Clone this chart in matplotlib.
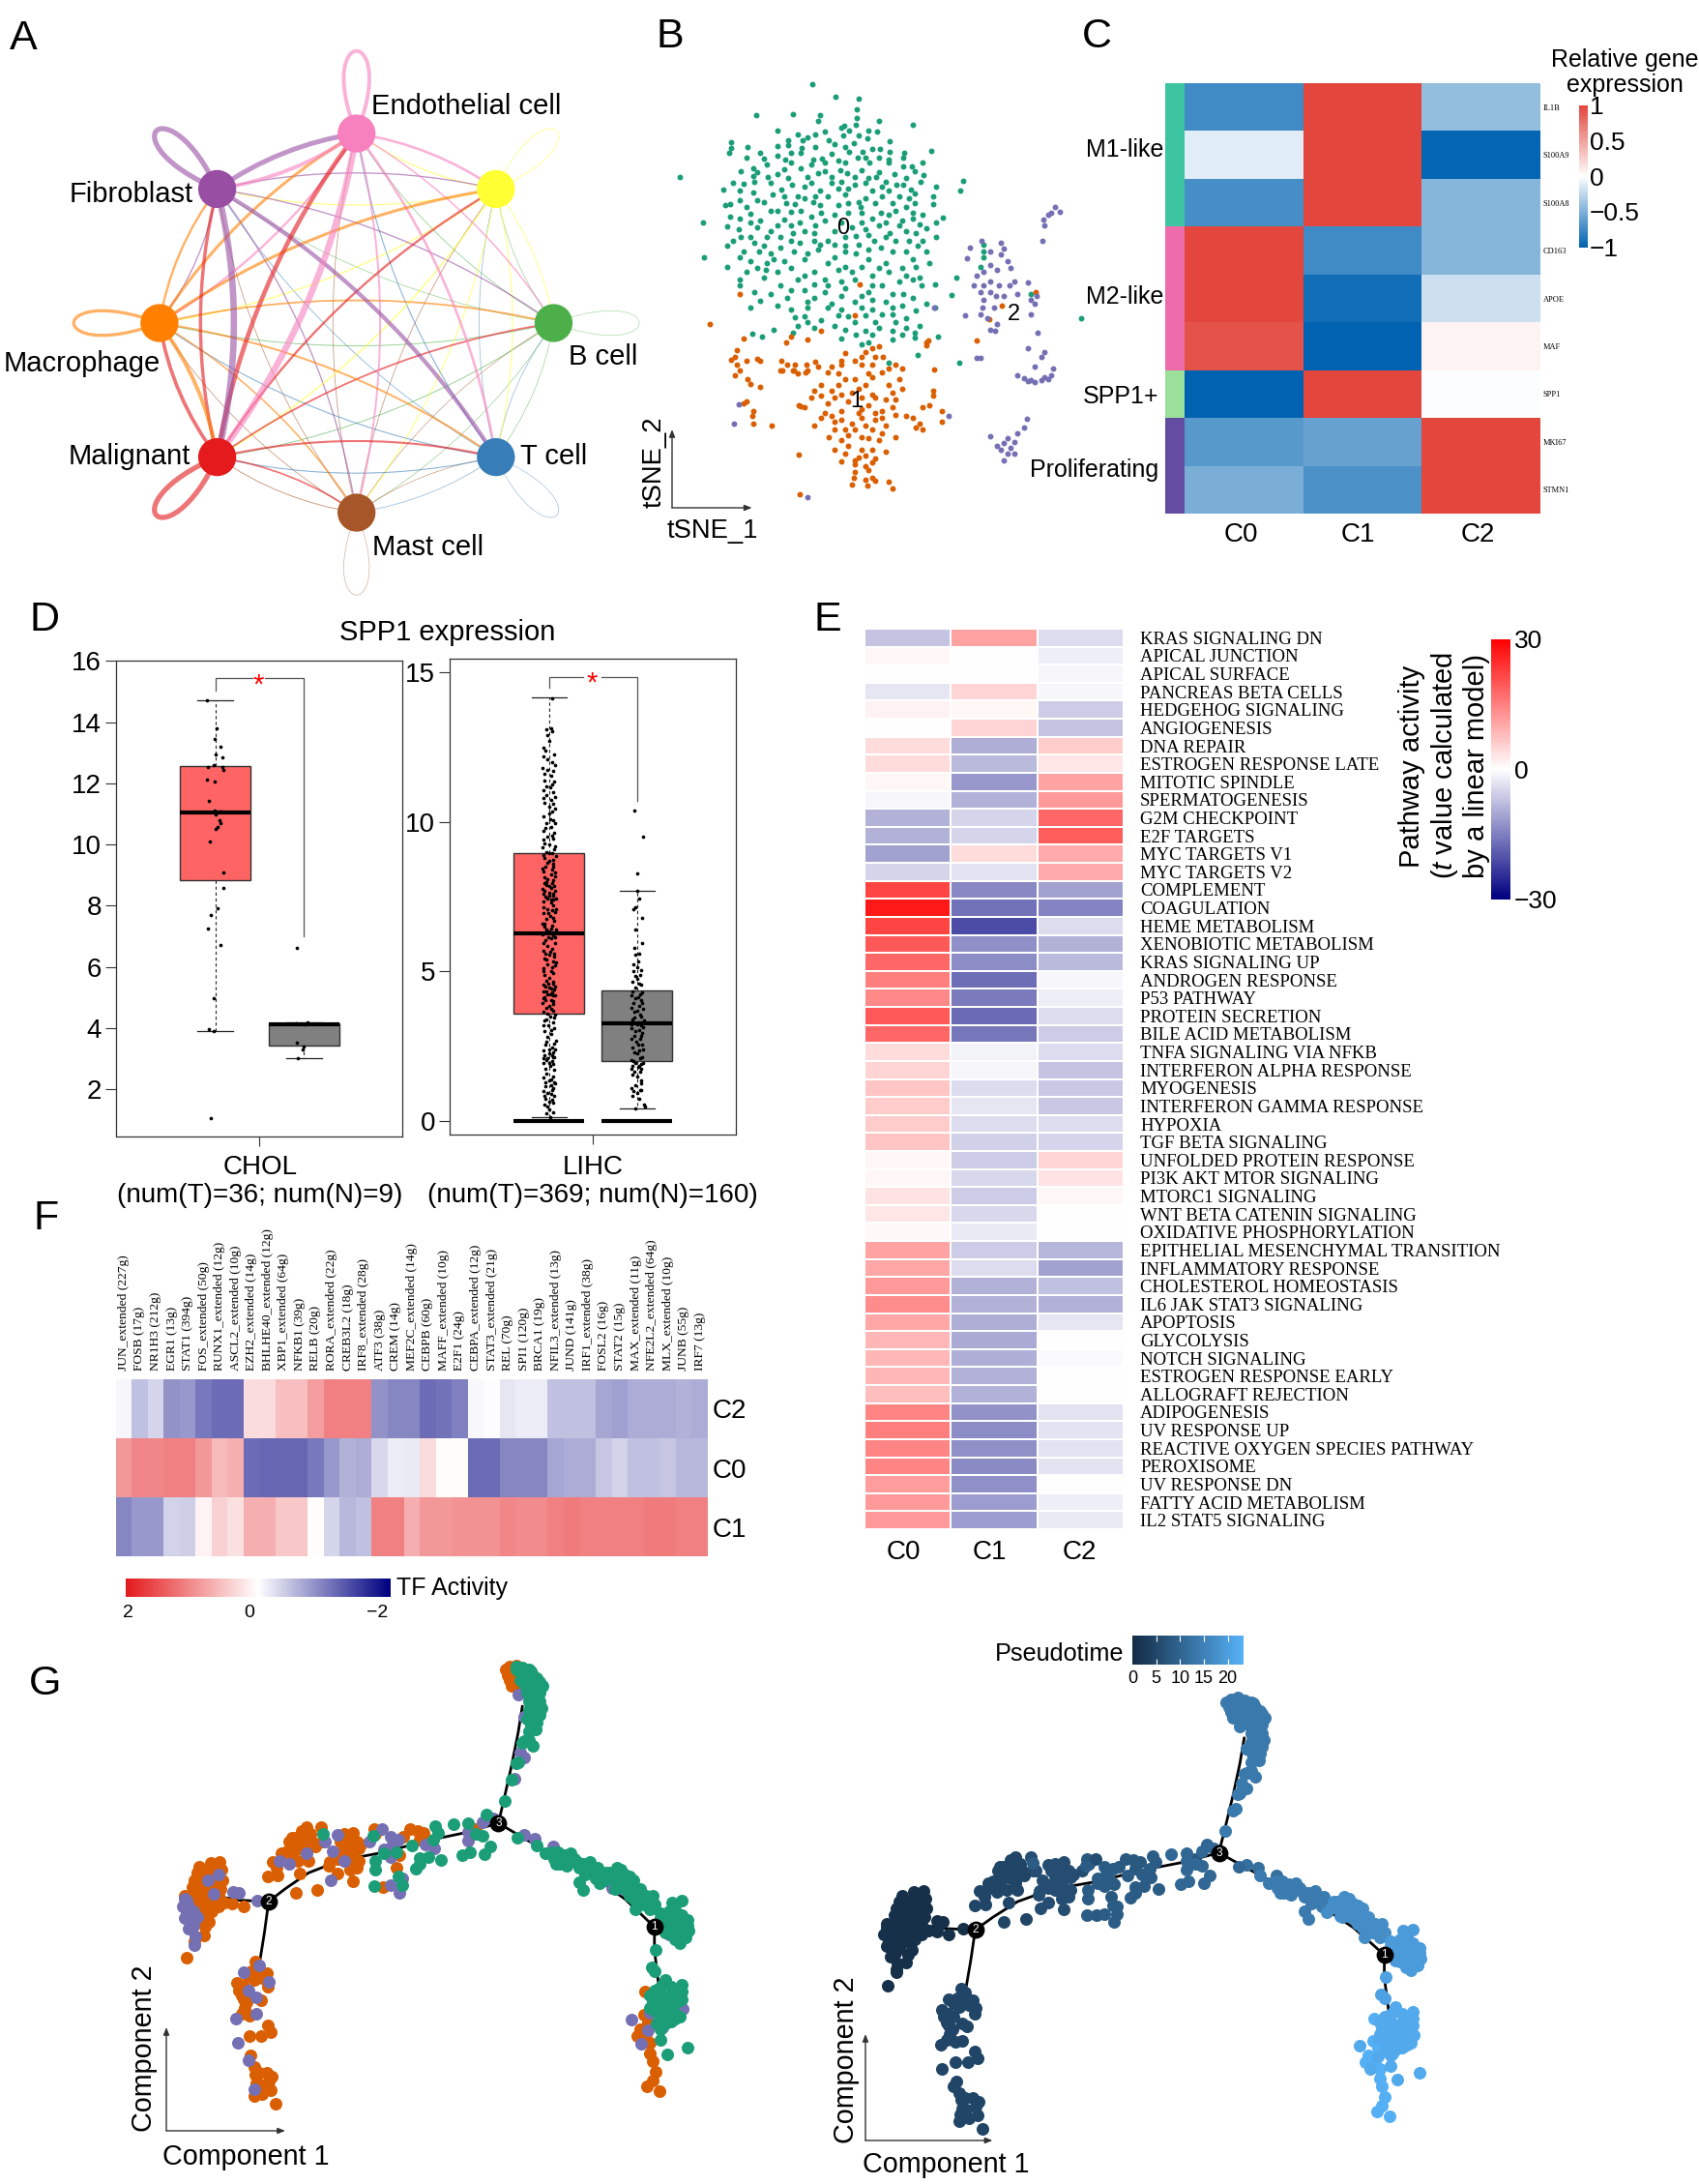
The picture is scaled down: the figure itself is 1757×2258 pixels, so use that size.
import numpy as np
import matplotlib
matplotlib.use('Agg')
import matplotlib.pyplot as plt
from matplotlib.path import Path
from matplotlib.patches import PathPatch
from matplotlib.colors import LinearSegmentedColormap, Normalize
from matplotlib.cm import ScalarMappable

plt.rcParams['font.family'] = ['Liberation Sans', 'DejaVu Sans']
plt.rcParams['mathtext.fontset'] = 'custom'
plt.rcParams['mathtext.rm'] = 'Liberation Sans'
plt.rcParams['mathtext.it'] = 'Liberation Sans:italic'

# ---------- Panel A ----------
cell_colors = ['#f781bf', '#ffff33', '#4daf4a', '#377eb8', '#a65628', '#e41a1c', '#ff7f00', '#984ea3']
cell_angles = [90, 45, 0, -45, -90, -135, 180, 135]
interaction_widths = [
    [3.0, 2.0, 1.2, 2.0, 1.5, 5.0, 1.8, 3.0],
    [0.9, 0.6, 0.7, 0.8, 0.8, 1.1, 1.0, 0.9],
    [0.6, 0.5, 0.4, 0.5, 0.5, 0.7, 0.7, 0.5],
    [0.8, 0.5, 0.5, 0.4, 0.5, 0.8, 0.8, 0.6],
    [0.6, 0.6, 0.5, 0.5, 0.4, 0.7, 0.6, 0.6],
    [3.5, 1.8, 1.4, 1.6, 1.3, 4.0, 2.8, 2.6],
    [2.3, 2.3, 1.4, 1.5, 1.2, 3.0, 2.5, 1.8],
    [3.8, 1.0, 1.0, 3.2, 1.0, 5.0, 1.0, 4.0],
]

# ---------- Panel B (positions) ----------
tsne_c0 = [(257,227),(292,262),(326,266),(323,295),(174,310),(229,309),(268,311),(265,326),(323,320),(356,327),(405,337),(321,337),(304,339),
(261,362),(276,355),(340,352),(353,356),(303,365),(325,365),(222,380),(243,380),(282,380),(137,385),(137,400),(161,397),(134,412),(221,392),(241,400),(290,390),(318,387),(345,403),(357,402),(393,412),(433,408),
(180,412),(205,420),(217,430),(240,412),(258,430),(285,415),(311,410),(324,425),(370,432),(392,425),(185,428),(255,445),(275,440),(295,435),(342,440),(370,440),(404,450),
(170,455),(151,462),(175,465),(216,458),(240,455),(265,468),(298,460),(308,468),(330,460),(355,465),(378,470),(408,463),(421,472),(62,478),(192,477),(222,480),(285,478),(300,490),(340,482),(365,490),(382,500),(417,490),(440,505),(480,488),
(125,511),(155,497),(172,490),(195,495),(227,500),(245,505),(268,515),(285,495),(310,510),(320,500),(345,515),(370,515),(402,512),(408,522),(475,516),
(170,520),(198,525),(235,530),(258,545),(280,530),(325,545),(335,535),(385,530),(150,540),(135,552),(160,558),(185,545),(218,548),(245,535),(295,555),(350,550),(408,548),(435,552),(128,553),(328,560),
(205,570),(240,570),(270,575),(310,575),(380,570),(420,580),(450,588),(96,601),(150,590),(180,595),(215,592),(238,600),(275,595),(345,590),(365,600),(390,595),(415,605),(131,612),
(148,620),(175,615),(195,625),(228,630),(262,610),(315,615),(355,610),(385,610),(425,617),(165,640),(190,640),(245,625),(280,650),(305,640),(340,635),(372,630),(410,630),
(132,665),(155,680),(172,655),(185,665),(210,670),(238,655),(260,652),(290,660),(325,660),(348,650),(380,650),(420,650),(97,694),(200,700),(230,680),(265,675),(290,695),(322,685),(358,670),(395,680),(425,680),
(165,705),(190,710),(215,705),(245,700),(280,710),(305,720),(340,700),(365,712),(405,700),(430,710),(131,722),(188,730),(260,735),(315,735),(390,725),(395,745),(185,750),(205,735),(150,755),(150,770),(235,755),(260,768),(300,760),(345,745),(370,735),(415,750),(418,770),(438,768),(470,750),
(172,790),(225,785),(245,785),(275,790),(305,780),(340,790),(375,795),(392,795),(180,812),(220,805),(250,815),(285,820),(320,815),(345,810),(390,825),(425,820),(165,832),(225,835),(250,830),(280,832),(345,835),(360,850),(395,860),(462,797),(438,830),
(232,858),(270,865),(295,853),(320,870),(350,870),(380,870),(415,880),(235,880),(200,890),(168,902),(183,910),(290,880),(335,895),(375,895),(408,900),(442,910),(228,898),(322,905),(300,915),(408,912),(330,930),(375,918),(340,925),(413,960),(474,980),(370,980),(654,860),
(510,660),(510,680),(510,695),(505,720),(580,795),
(205,352),(235,362),(250,372),(300,345),(312,352),(338,375),(372,382),(205,395),(262,398),(305,398),(332,410),(372,410),
(160,425),(225,412),(272,428),(305,440),(335,425),(355,425),(392,450),(420,440),(190,445),(225,440),(170,475),(205,470),(250,478),(275,462),(320,478),(352,478),(395,480),
(140,495),(212,512),(255,495),(295,510),(335,495),(360,505),(392,498),(435,530),(150,515),(215,530),(262,530),(305,525),(360,530),(400,535),(175,540),(232,552),(268,555),(310,550),(375,550),(395,560),
(165,578),(195,570),(225,572),(290,580),(330,575),(358,575),(405,575),(135,585),(205,610),(255,585),(300,600),(330,600),(405,590),(440,600),(165,600),(225,610),(290,625),(335,620),(370,580),
(152,640),(210,640),(260,630),(322,638),(395,625),(440,640),(140,650),(225,650),(268,660),(305,665),(365,640),(400,650),(178,680),(250,685),(305,680),(340,675),(375,680),(412,665),(195,685),(150,695),
(175,725),(225,725),(295,730),(330,720),(355,725),(410,722),(160,735),(245,745),(275,755),(320,755),(345,770),(385,760),(405,755),(210,770),(280,770),(360,770),
(195,795),(260,805),(300,800),(330,800),(365,815),(405,805),(205,825),(300,835),(330,830),(375,830),(410,840),(245,855),(310,855),(335,852),(375,850),(260,885),(305,890),(355,885),(395,885),(250,870),(345,905),(390,905)]
tsne_c1 = [(105,876),(150,795),(327,768),(320,853),(270,895),(155,915),(225,910),(250,918),(218,925),(428,920),(425,932),(500,921),
(145,945),(143,965),(137,972),(175,970),(180,975),(145,985),(150,1000),(143,1015),(162,1025),(165,1038),(180,1045),(160,1085),(155,1090),(170,1110),(168,1125),(170,1145),(197,1150),
(212,975),(220,985),(213,1000),(232,985),(235,1010),(230,1000),(248,985),(250,1000),(262,978),(247,1005),(210,1000),(305,955),(345,940),(355,935),(330,965),(350,965),(362,965),(300,985),(285,990),(280,1005),(295,1010),(320,975),(380,985),(390,995),(437,997),(385,1025),(360,1005),(340,1010),(320,1025),(295,1040),
(260,1055),(285,1055),(270,1070),(300,1065),(325,1050),(390,1050),(435,1055),(435,1070),(365,1080),(340,1095),(310,1085),(280,1090),(245,1100),(237,1095),(300,1110),(330,1105),(360,1110),(430,1095),(420,1100),(448,1110),(448,1140),(405,1130),(415,1145),(420,1160),(380,1120),
(285,1125),(300,1135),(330,1130),(350,1135),(260,1150),(290,1160),(320,1160),(345,1160),(365,1150),(410,1155),(282,1180),(310,1175),(340,1185),(380,1180),(300,1190),(345,1215),(365,1220),(290,1215),(237,1228),(325,1235),(300,1247),(320,1255),(345,1250),(350,1240),(320,1275),(340,1270),(318,1290),(335,1295),(350,1300),(370,1302),(376,1320),(316,1310),(338,1312),(238,1335),(425,925),
(518,862),(537,826),(587,788),(330,985),(345,1020),(350,1075),
(160,975),(228,1000),(265,990),(300,975),(335,950),(345,985),(370,995),(305,1025),(335,1040),(370,1040),(270,1040),(315,1060),(345,1065),(375,1060),(255,1075),(290,1075),(330,1075),(380,1080),(325,1115),(350,1115),(275,1115),(290,1140),(315,1145),(335,1150),(360,1170),(305,1160),(330,1180),(355,1190),(310,1205),(330,1215),(305,1225),(335,1230),(320,1245),(335,1260),(360,1130),(395,1125),(240,1098),(270,1130),(375,1100),(345,1290)]
tsne_c2 = [(615,558),(610,575),(622,572),(605,580),(598,592),(600,610),(597,652),(507,650),(535,657),(540,672),(535,688),(490,668),(485,698),(545,705),(550,725),(520,715),(530,730),(510,735),(500,745),(495,770),(510,770),(520,760),(532,770),(548,770),(575,762),(560,795),(520,790),(528,800),(510,810),(508,830),(482,852),(505,850),(530,875),(520,890),(527,895),(580,810),(585,820),(580,850),(437,830),(590,900),(575,940),(600,950),(595,965),(585,990),(500,967),(505,967),(613,995),(610,1015),(560,1015),(570,1022),(580,1028),(595,1028),(605,1025),(585,1032),
(574,1132),(570,1155),(560,1170),(520,1178),(555,1195),(540,1198),(530,1205),(550,1210),(555,1225),(545,1225),(540,1245),(458,1125),(148,1093),(141,1145),(250,1343),
(520,680),(555,760),(505,790),(540,800),(525,830),(515,860),(588,800),(575,1030),(600,1020),(545,1185),(535,1215)]
tsne_centres = [('0',302,618),('1',322,1085),('2',555,850)]
cluster_colors = ['#1b9e77', '#d95f02', '#7570b3']

# ---------- Panel C ----------
c_genes = ['IL1B','S100A9','S100A8','CD163','APOE','MAF','SPP1','MKI67','STMN1']
c_clusters = ['C0','C1','C2']
c_values = [[-0.75,1.0,-0.42],[-0.12,1.0,-0.98],[-0.72,1.0,-0.47],[1.0,-0.75,-0.47],[1.0,-0.93,-0.2],
            [0.93,-1.05,0.07],[-1.0,1.0,-0.01],[-0.65,-0.6,1.0],[-0.52,-0.7,1.0]]
c_groups = ['M1-like','M2-like','SPP1+','Proliferating']
c_group_sizes = [3,3,1,2]
c_group_colors = ['#3cc5a0','#ee6bab','#9be09a','#644ca3']

# ---------- Panel D ----------
chol_tumor_box = dict(q1=8.84, med=11.05, q3=12.55, whislo=3.9, whishi=14.7)
chol_normal_box = dict(q1=3.42, med=4.12, q3=4.16, whislo=3.0, whishi=4.2)
lihc_tumor_box = dict(q1=3.6, med=6.27, q3=8.96, whislo=0.12, whishi=14.17)
lihc_normal_box = dict(q1=2.02, med=3.27, q3=4.37, whislo=0.42, whishi=7.71)
chol_tumor_pts = [(.905,14.7),(1.017,13.8),(.994,13.44),(1.06,13.18),(1.006,12.94),(1.084,12.85),(.916,12.54),(.983,12.58),(1.084,12.54),(1.095,12.45),(.905,12.13),(.994,12.06),(.933,11.43),(.994,11.11),(1.045,11.07),(1.07,11.07),(1.006,10.98),(1.045,10.78),(1.06,10.7),(1.03,10.58),(1.006,10.52),(.94,10.1),(1.095,9.09),(1.095,8.57),(1.03,7.91),(.95,7.71),(.916,7.26),(1.056,6.71),(.978,4.97),(.928,3.96),(.983,3.9),(.955,1.04)]
chol_normal_pts = [(1.925,6.62),(2.04,4.2),(1.925,3.52),(2.0,3.4),(1.99,3.29),(1.935,3.0),(1.91,4.16),(2.01,4.13)]
lihc_tumor_pts = [(.03,14.15),(-.03,13.1),(.02,13.15),(.03,13.05),(-.02,12.9),(.0,12.7),(-.06,12.5),(-.04,12.4),(-.07,12.2),(-.02,12.1),(.03,12.0),(.07,11.9),(-.08,11.8),(-.02,11.75),(.05,11.7),(.02,11.55),(-.05,11.4),(.06,11.35),(-.03,11.2),(.01,11.15),(-.06,11.05),(.05,11.0),(-.03,10.9),(.07,10.85),(.02,10.75),(-.05,10.65),(.04,10.6),(.0,10.5),(.07,10.45),(.03,10.35),(-.06,10.2),(.01,10.1),(.05,10.05),(-.03,9.95),(.02,9.85),(-.07,9.7),(.06,9.65),(-.02,9.5),(.04,9.45),(-.05,9.3),(.0,9.25),(-.08,9.15),(.06,9.1),(-.03,9.0),(.03,8.95),(-.06,8.9),(.08,8.85),(.0,8.7),(.05,8.6),(-.04,8.5),(.03,8.4),(-.07,8.35),(.07,8.2),(-.02,8.1),(.05,8.05),(-.05,7.95),(.02,7.8),(-.08,7.75),(.07,7.7),(.0,7.65),(.04,7.6),(-.04,7.5),(.08,7.45),(-.07,7.35),(.02,7.3),(.05,7.2),(-.02,7.1),(.07,7.0),(-.06,6.95),(.01,6.85),(-.03,6.75),(.06,6.7),(.03,6.55),(-.05,6.5),(.08,6.4),(.0,6.35),(-.08,6.25),(.05,6.2),(.02,6.1),(-.04,6.05),(.07,5.95),(-.02,5.85),(.03,5.75),(-.07,5.7),(.06,5.6),(.0,5.55),(-.05,5.45),(.04,5.35),(-.02,5.25),(.07,5.2),(-.06,5.1),(.02,5.0),(.05,4.95),(-.04,4.5),(.0,4.45),(.06,4.4),(-.07,4.35),(.03,4.3),(-.02,4.25),(.07,4.2),(-.05,4.15),(.02,4.05),(.05,4.0),(-.08,3.95),(.0,3.85),(-.03,3.8),(.04,3.7),(-.06,3.65),(.07,3.55),(.01,3.5),(-.03,3.4),(.04,3.3),(-.01,3.2),(.06,3.1),(-.05,3.0),(.02,2.9),(-.02,2.8),(.08,2.7),(-.04,2.55),(.03,2.45),(-.07,2.35),(.05,2.3),(.0,2.25),(-.05,2.2),(.06,2.15),(-.02,2.1),(.03,2.0),(-.07,1.95),(.01,1.85),(.06,1.7),(-.03,1.6),(.04,1.5),(-.06,1.45),(.0,1.35),(.07,1.25),(-.04,1.15),(.03,1.05),(-.07,1.0),(.02,.9),(.06,.85),(-.04,.75),(.05,.6),(-.02,.5),(.0,.4),(.04,.3),(-.03,.25),(.01,.12),
(.05,8.75),(-.02,8.65),(.02,8.25),(-.05,8.15),(.06,7.85),(-.03,7.9),(.0,7.55),(-.06,7.6),(.05,7.4),(.03,7.05),(-.05,6.6),(.04,6.3),(-.01,6.15),(.06,5.5),(-.03,5.4),(.03,5.15),(-.05,4.9),(.0,4.8),(-.03,4.7),(.05,4.6),(-.07,4.55),(.02,4.42),(.04,4.22),(-.04,4.05),(.02,3.75),(-.05,3.35),(.06,2.6),(.0,2.4),(.03,2.2),(-.03,2.05),(.05,1.9),(-.04,1.75),(.02,1.4),(.05,1.1),(-.02,.95),(.03,.7),(-.05,.55),
(.06,12.25),(-.05,11.6),(.03,11.25),(-.07,10.8),(.0,10.3),(.07,9.95),(-.04,9.8),(.03,9.55),(-.07,9.4),(.07,9.2),(.0,8.95),(-.05,8.8),(.04,8.5),(-.08,8.45),(.07,8.3),(-.03,8.0),(.03,7.95),(.0,7.85),(-.05,7.7),(.05,7.55),(-.02,7.45),(.02,7.4),(-.06,7.15),(.08,7.1),(-.01,6.95),(.04,6.8),(-.08,6.6),(.02,6.45),(-.03,6.4),(.07,6.15),(-.06,5.95),(.01,5.65),(-.04,5.6),(.08,5.3),(-.07,5.0),(.04,4.65),(-.01,4.6),(.07,4.5),(-.03,4.35),(.01,4.25),(-.07,4.1),(.05,3.9),(-.02,3.6),(.06,3.45),(-.06,3.2),(.02,3.05),(-.03,2.65),(.07,2.4),(-.06,2.1),(.04,2.15),(.0,1.95),(-.04,1.3),(.06,1.3),(.02,1.2),(-.05,.85),(.0,.65)]
lihc_normal_pts = [(-.03,10.4),(.07,9.5),(.0,8.27),(.0,7.7),(.02,7.45),(-.02,7.15),(-.04,7.1),(.06,6.8),(-.02,6.4),(.06,5.95),(-.03,5.8),(-.02,5.55),(.01,5.35),(.0,5.15),(-.04,5.0),(.03,4.9),(.0,4.75),(-.05,4.65),(.04,4.55),(-.02,4.45),(.06,4.3),(-.06,4.2),(.01,4.15),(.04,4.05),(-.04,3.95),(.02,3.85),(.07,3.75),(-.03,3.65),(.03,3.55),(-.05,3.4),(.08,3.35),(.0,3.25),(.05,3.2),(-.06,3.1),(.02,3.05),(.06,2.95),(-.03,2.85),(.03,2.75),(-.01,2.65),(.06,2.55),(-.05,2.45),(.02,2.35),(.0,2.25),(.06,2.15),(-.06,2.05),(-.02,1.95),(.04,1.9),(-.05,1.85),(.01,1.8),(.05,1.75),(-.03,1.65),(.0,1.5),(.04,1.35),(-.02,1.2),(-.06,1.1),(.05,1.05),(.0,.95),(-.05,.85),(.02,.75),(.08,.55),(.09,.5),(-.02,.42),
(.02,5.6),(-.04,5.25),(.05,5.05),(-.02,4.85),(.02,4.6),(-.05,4.35),(.03,4.25),(-.02,4.1),(.06,3.95),(-.06,3.8),(.0,3.7),(.05,3.5),(-.03,3.45),(.02,3.3),(-.06,3.25),(.07,3.15),(-.02,3.0),(.04,2.85),(-.06,2.75),(.01,2.55),(.07,2.4),(-.03,2.3),(.03,2.1),(-.04,2.0),(.07,1.95),(.02,1.85),(-.07,1.75),(.03,1.65),(-.05,1.55),(.05,1.25),(-.04,1.0),(.03,1.05)]

# ---------- Panel E ----------
e_pathways = ['KRAS SIGNALING DN','APICAL JUNCTION','APICAL SURFACE','PANCREAS BETA CELLS','HEDGEHOG SIGNALING','ANGIOGENESIS','DNA REPAIR','ESTROGEN RESPONSE LATE','MITOTIC SPINDLE','SPERMATOGENESIS','G2M CHECKPOINT','E2F TARGETS','MYC TARGETS V1','MYC TARGETS V2','COMPLEMENT','COAGULATION','HEME METABOLISM','XENOBIOTIC METABOLISM','KRAS SIGNALING UP','ANDROGEN RESPONSE','P53 PATHWAY','PROTEIN SECRETION','BILE ACID METABOLISM','TNFA SIGNALING VIA NFKB','INTERFERON ALPHA RESPONSE','MYOGENESIS','INTERFERON GAMMA RESPONSE','HYPOXIA','TGF BETA SIGNALING','UNFOLDED PROTEIN RESPONSE','PI3K AKT MTOR SIGNALING','MTORC1 SIGNALING','WNT BETA CATENIN SIGNALING','OXIDATIVE PHOSPHORYLATION','EPITHELIAL MESENCHYMAL TRANSITION','INFLAMMATORY RESPONSE','CHOLESTEROL HOMEOSTASIS','IL6 JAK STAT3 SIGNALING','APOPTOSIS','GLYCOLYSIS','NOTCH SIGNALING','ESTROGEN RESPONSE EARLY','ALLOGRAFT REJECTION','ADIPOGENESIS','UV RESPONSE UP','REACTIVE OXYGEN SPECIES PATHWAY','PEROXISOME','UV RESPONSE DN','FATTY ACID METABOLISM','IL2 STAT5 SIGNALING']
e_c0 = [-7,1,0,-3,1.5,0,4,4,1,-1,-9,-9,-11,-5,22,27,22,19.5,18,15,14,19.5,18,4,5,7,6,6,7,1,1,3.5,3,.8,11,10.5,12,13.5,10.5,8.5,8.5,8.5,7.5,14.5,15,14.5,14.5,11.5,12,12]
e_c1 = [11,.1,0,5,1,5,-9.5,-8,-12,-9,-5,-5,4,-3.5,-14,-16.5,-21,-13,-13.5,-17,-15.5,-17.5,-16,-1.5,-1,-4,-3,-4,-5.5,-6,-4.5,-6,-4.5,-2.5,-6,-4,-9,-9,-9.5,-10,-9.5,-9,-9,-12.7,-13.4,-13,-13.7,-13,-11.5,-11.5]
e_c2 = [-4,-2,-1,-1,-6,-7,6,3,11,12,18,19,10,10,-11,-14.4,-4,-9,-8,-1,-2,-4,-6,-4,-7,-6.5,-6.5,-4,-5,5,3.5,1,.2,.1,-8.5,-11,-7.5,-9,-3,0,-.5,.1,.1,-3.5,-3.5,-3.5,-3.5,0,-2,-2.5]

# ---------- Panel F ----------
f_tfs = ['JUN_extended (227g)','FOSB (17g)','NR1H3 (212g)','EGR1 (13g)','STAT1 (394g)','FOS_extended (50g)','RUNX1_extended (12g)','ASCL2_extended (10g)','EZH2_extended (14g)','BHLHE40_extended (12g)','XBP1_extended (64g)','NFKB1 (39g)','RELB (20g)','RORA_extended (22g)','CREB3L2 (18g)','IRF8_extended (28g)','ATF3 (38g)','CREM (14g)','MEF2C_extended (14g)','CEBPB (60g)','MAFF_extended (10g)','E2F1 (24g)','CEBPA_extended (12g)','STAT3_extended (21g)','REL (70g)','SPI1 (120g)','BRCA1 (19g)','NFIL3_extended (13g)','JUND (141g)','IRF1_extended (38g)','FOSL2 (16g)','STAT2 (15g)','MAX_extended (11g)','NFE2L2_extended (64g)','MLX_extended (10g)','JUNB (55g)','IRF7 (13g)']
f_rows = ['C2','C0','C1']
f_c2 = [-.07,-.5,-.33,-.85,-.8,-1.05,-1.15,-1.15,.3,.3,.55,.55,.85,1.1,1.1,1.1,-.85,-.95,-.95,-1.15,-1.1,-1.0,-.05,-.03,-.2,-.15,-.15,-.5,-.5,-.5,-.7,-.75,-.65,-.65,-.65,-.6,-.65]
f_c0 = [.9,1.05,1.05,1.1,1.1,.9,.6,.7,-1.15,-1.2,-1.2,-1.2,-1.05,-.8,-.6,-.65,-.3,-.15,-.17,.3,.03,.02,-1.15,-1.15,-.95,-.95,-.95,-.7,-.65,-.65,-.45,-.35,-.5,-.5,-.45,-.55,-.55]
f_c1 = [-.95,-.8,-.8,-.35,-.38,.1,.4,.28,.7,.7,.47,.47,.02,-.33,-.55,-.5,1.1,1.1,.7,.9,.9,.95,.95,.95,1.05,1.0,1.0,1.1,1.15,1.1,1.1,1.1,1.1,1.15,1.15,1.1,1.1]

# ---------- Panel G (cell positions) ----------
g_top = [(1000,90),(1015,95),(1030,100),(1020,110),(1040,115),(1030,125),(1045,130),(1055,135),(1062,145),(1050,150),(1035,145),(1020,140),(1010,130),(1000,100),(1040,160),(1025,165),(1045,175),(1055,190),(1040,195),(1060,210),(1045,215),(1030,215),(1055,230),(1040,235),(1025,240),(1050,250),(1035,258),(1030,275),(1020,305),(1030,300),(1040,318),(1015,310),(1005,365),(1000,368),(990,415),(972,476),
(1010,105),(1025,120),(1035,105),(1050,125),(1055,165),(1030,190),(1050,205),(1040,225),(1035,245),(1020,120),(1060,150),(1048,270)]
g_near3 = [(930,513),(885,538),(905,570),(920,575),(938,605),(925,627),(890,622),(872,630),(850,542),(1003,580)]
g_mid = [(808,547),(815,565),(803,585),(752,603),(770,638),(790,635),(822,643),(760,668),(770,655),(663,645),(663,672),(662,718),(715,620),(720,690),(728,715),(540,568),(660,575),(685,625)]
g_r1 = [(1050,603),(1070,625),(1090,640),(1100,620),(1115,630),(1105,655),(1130,625),(1140,640),(1160,655),(1175,650),(1195,665),(1165,685),(1150,707),(1160,730),(1190,695),
(1085,620),(1110,645),(1120,660),(1095,655),(1145,650),(1150,665),(1170,670),(1185,680),(1130,645)]
g_r2 = [(1200,710),(1225,680),(1240,665),(1260,685),(1245,710),(1280,700),(1220,695),(1235,725),(1265,735),(1295,725),(1310,745),(1280,755),(1325,745),(1285,785),(1305,770),(1320,785),(1300,750),
(1215,680),(1235,690),(1250,695),(1270,710),(1255,720),(1290,740),(1270,745),(1305,755),(1290,770),(1315,765),(1330,770),(1250,670),(1270,690),(1210,700),(1320,760),(1280,725)]
g_lobe = [(1372,765),(1395,760),(1380,785),(1345,795),(1370,805),(1395,800),(1410,815),(1385,825),(1360,830),(1345,830),(1412,845),(1395,850),(1370,855),(1390,880),(1378,870),(1405,865),
(1355,810),(1380,800),(1400,830),(1375,840),(1355,850),(1385,860),(1365,790),(1410,830),(1345,810)]
g_down = [(1333,900),(1323,950),(1330,960)]
g_bottom = [(1355,985),(1340,1010),(1395,1000),(1370,1005),(1320,1030),(1345,1025),(1395,1020),(1370,1030),(1350,1045),(1325,1050),(1385,1045),(1365,1060),(1345,1065),(1320,1065),(1390,1090),(1365,1085),(1345,1095),(1370,1105),(1345,1125),(1345,1157),(1360,1197),(1410,1178),
(1330,1015),(1350,1000),(1380,1020),(1360,1040),(1335,1040),(1375,1070),(1395,1040),(1355,1075),(1330,1075),(1380,1095),(1355,1110),(1335,1110)]
o_top = [(975,100),(985,92),(1000,88),(1008,112),(980,115),(985,130),(990,145),(998,135),(1005,150),(985,105),(995,120)]
o_mid_far = [(662,555),(665,570),(748,555),(765,560),(780,565),(732,578),(770,585),(715,665),(722,630),(682,720),(905,555)]
o_mid_centre = [(535,550),(540,590),(590,570),(610,565),(600,585),(620,590),(590,605),(610,615),(630,600),(595,625),(555,650),(575,640),(600,640),(625,645),(620,665),(605,670),(575,682),(610,703),(553,660),
(595,595),(610,600),(580,590),(625,610),(585,625),(605,630)]
o_mid_near2 = [(465,580),(490,560),(500,550),(495,575),(515,590),(505,600),(480,595),(470,605),(450,620),(460,590),(520,605),(500,620),(480,645),(505,645),(420,650),(430,665),(408,690),(432,688),(484,683),(475,738),(525,730),
(475,580),(490,590),(510,570),(500,610),(485,610),(465,625),(440,625)]
o_blob = [(245,662),(272,652),(293,648),(283,668),(298,672),(270,680),(232,700),(255,700),(285,695),(300,700),(228,720),(250,722),(270,735),(295,725),(235,745),(260,750),(285,750),(305,765),(210,745),(240,770),(265,775),(290,775),(250,795),(275,790),(240,815),(268,820),(255,858),(232,875),(214,923),(323,768),(350,775),
(240,680),(260,680),(245,730),(275,710),(290,740),(225,755),(255,770),(280,760),(245,790),(265,800),(258,835),(240,700),(260,725)]
o_leg = [(378,933),(370,960),(385,965),(405,965),(395,980),(375,985),(335,995),(340,1015),(345,1030),(392,1043),(358,1050),(352,1065),(345,1082),(365,1088),(408,1115),(415,1135),(393,1145),(365,1147),(367,1202),(375,1235),(378,1255),(405,1250),(418,1262),(410,1275),(380,1280),(415,1300),(395,1310),(375,1318),(426,1340),(408,1005),
(380,975),(350,1005),(350,1040),(360,975),(388,1250),(390,1285)]
o_bottom = [(1308,1020),(1305,1085),(1315,1105),(1295,1125),(1310,1140),(1288,1145),(1320,1165),(1320,1195),(1325,1217),(1332,1248),(1325,1272),(1313,1290),(1342,1304)]
p_top = [(1005,172),(1035,180),(1020,235),(1010,338),(1020,350),(995,410)]
p_mid_near2 = [(435,645),(458,653),(500,625)]
p_mid_centre = [(575,572),(545,590),(562,618),(590,645),(557,700),(650,590),(680,555)]
p_mid_far = [(700,578),(705,600),(685,612),(720,585),(785,600),(805,610),(722,738),(700,716),(728,695),(700,635)]
p_near3 = [(885,562),(885,588),(920,535),(945,525)]
p_blob = [(210,755),(220,775),(205,775),(230,790),(215,795),(240,805),(220,840),(235,860),(232,885),(265,700),(290,685),(280,740),(325,735),(338,738),(382,758),(215,760),(225,800),(210,810),(230,830)]
p_leg = [(388,945),(350,963),(410,990),(362,1015),(380,1035),(380,1083),(333,1096),(336,1165),(362,1215),(376,1298)]
p_r1 = [(1020,572),(1045,582),(1088,605)]
p_r2 = [(1208,682),(1230,722),(1255,725),(1365,855)]
p_bottom = [(1320,1080),(1275,1098),(1315,1128),(1298,1167),(1348,1120),(1397,1068)]
# (cells, cluster index, pseudotime), in drawing order
traj_groups = [(o_top,1,13.5),(o_mid_far,1,8),(o_mid_centre,1,6),(o_mid_near2,1,4.5),(o_blob,1,1),(o_leg,1,4.5),(o_bottom,1,23),
               (p_top,2,13.5),(p_mid_near2,2,4.5),(p_mid_centre,2,6),(p_mid_far,2,8.5),(p_near3,2,10.5),(p_blob,2,1),(p_leg,2,4.5),(p_r1,2,12),(p_r2,2,17),(p_bottom,2,22),
               (g_top,0,13.5),(g_near3,0,10.5),(g_mid,0,8.5),(g_r1,0,14),(g_r2,0,17),(g_lobe,0,19.5),(g_down,0,20.5),(g_bottom,0,22)]
branch_up = [(958,538),(975,450),(990,370),(1005,280),(1015,205)]
branch_right = [(958,538),(1010,575),(1060,610),(1120,650),(1190,695),(1260,755),(1300,800),(1330,835)]
branch_right_down = [(1330,835),(1330,900),(1340,1000)]
branch_mid = [(958,538),(880,565),(780,590),(690,620),(580,645),(505,680),(450,725),(410,762)]
branch_left = [(410,762),(340,758),(280,745)]
branch_left_down = [(410,762),(400,850),(390,925)]
traj_nodes = [('1',1330,835),('2',410,762),('3',958,538)]

# ---------- Figure ----------
W, H = 1758, 2258
fig = plt.figure(figsize=(W/100, H/100), dpi=100, facecolor='white')

def axpx(x0, y0, x1, y1, **kw):
    return fig.add_axes([x0/W, 1-y1/H, (x1-x0)/W, (y1-y0)/H], **kw)

def T(x, y, s, **kw):
    kw.setdefault('va', 'center')
    if kw.get('rotation') == 90:
        x += 2.5
    else:
        y += 2.5
    return fig.text(x/W, 1-y/H, s, **kw)

for s, x, y in [('A',24,36),('B',693,34),('C',1134,34),('D',46,637),('E',856,637),('F',48,1256),('G',47,1737)]:
    T(x, y+1.5, s, fontsize=31, ha='center')

# A -------------------------------------------------
ax = axpx(368.7-1.8*203.8, 334-1.6*196, 368.7+1.8*203.8, 334+1.6*196)
ax.set_xlim(-1.8, 1.8); ax.set_ylim(-1.6, 1.6); ax.axis('off')
ang = np.deg2rad(cell_angles)
nx, ny = np.cos(ang), np.sin(ang)
order = sorted([(interaction_widths[i][j], i, j) for i in range(8) for j in range(8)])
for lw, i, j in order:
    col = cell_colors[i]
    if i == j:
        r = np.array([nx[i], ny[i]]); t = np.array([-r[1], r[0]])
        p0 = r
        verts = [p0, p0+0.58*r+0.225*t, p0+0.58*r-0.225*t, p0]
        codes = [Path.MOVETO, Path.CURVE4, Path.CURVE4, Path.CURVE4]
    else:
        a = np.array([nx[i], ny[i]]); b = np.array([nx[j], ny[j]])
        d = b-a
        ctrl = (a+b)/2+0.12*np.array([-d[1], d[0]])
        verts = [a, ctrl, b]
        codes = [Path.MOVETO, Path.CURVE3, Path.CURVE3]
    ax.add_patch(PathPatch(Path(verts, codes), fc='none', ec=col, lw=lw*0.95, alpha=0.6, zorder=1))
ax.scatter(nx, ny, s=800, c=cell_colors, linewidths=0, zorder=3)
for s, x, y, ha in [('Endothelial cell',384,107.5,'left'),('Fibroblast',199.5,198.5,'right'),('Macrophage',3.5,373.7,'left'),
                    ('B cell',587.6,366.5,'left'),('T cell',537.7,469.8,'left'),('Mast cell',385,564,'left'),('Malignant',197,469,'right')]:
    T(x, y, s, fontsize=21, ha=ha)

# B -------------------------------------------------
ax = axpx(660, 0, 1758, 600)
ax.set_xlim(0, 1568); ax.set_ylim(1568, 0); ax.axis('off'); ax.patch.set_alpha(0)
for pts, c in [(tsne_c0,0),(tsne_c1,1),(tsne_c2,2)]:
    xy = np.array(pts)
    ax.scatter(xy[:,0], xy[:,1], s=18, color=cluster_colors[c], linewidths=0)
for s, x, y in tsne_centres:
    ax.text(x, y, s, fontsize=17, ha='center', va='center')

# C -------------------------------------------------
cmap_c = LinearSegmentedColormap.from_list('c', ['#0063b1','#ffffff','#e2463d'])
ax = axpx(1225, 86, 1593, 531)
ax.pcolormesh(np.array(c_values), cmap=cmap_c, vmin=-1, vmax=1)
ax.invert_yaxis()
ax.set_xticks([]); 
for s, x in zip(c_clusters, [1283,1404,1528]):
    T(x, 550, s, fontsize=20, ha='center')
ax.yaxis.tick_right(); ax.set_yticks(np.arange(9)+.5)
ax.set_yticklabels(c_genes, fontsize=6, family='Liberation Serif')
ax.tick_params(length=0, axis='both'); ax.tick_params(axis='y', pad=2)
for s in ax.spines.values(): s.set_visible(False)
ax = axpx(1205, 86, 1225, 531)
bot = 0
for sz, col in zip(c_group_sizes, c_group_colors):
    ax.bar(0, sz, bottom=bot, width=1, color=col, linewidth=0)
    bot += sz
ax.set_xlim(-.5, .5); ax.set_ylim(sum(c_group_sizes), 0); ax.axis('off')
for s, x, y in zip(c_groups, [1203,1203,1198,1198], [153,304,407.6,484]):
    T(x, y, s, fontsize=18, ha='right')
cax = axpx(1633.5, 109, 1642.5, 255.5)
cb = fig.colorbar(ScalarMappable(Normalize(-1,1), cmap_c), cax=cax)
cb.set_ticks([1,.5,0,-.5,-1]); cb.set_ticklabels(['1','0.5','0','−0.5','−1'], fontsize=19)
cb.ax.tick_params(length=0, pad=1); cb.outline.set_visible(False)
T(1680, 59, 'Relative gene', fontsize=18, ha='center')
T(1680, 85, 'expression', fontsize=18, ha='center')

# D -------------------------------------------------
def box_panel(ax, boxes, xlim, ylim, yticks, clouds, bracket, extra_zero=False):
    stats = []
    for b in boxes:
        st = dict(b); st['fliers'] = []
        stats.append(st)
    bp = ax.bxp(stats, positions=[1,2], widths=.8, patch_artist=True, showfliers=False,
                manage_ticks=False, zorder=2,
                medianprops=dict(color='black', lw=3, solid_capstyle='butt'),
                whiskerprops=dict(color='#222222', lw=.8, ls=(0,(3,2.5))),
                capprops=dict(color='#222222', lw=.9),
                boxprops=dict(edgecolor='#333333', lw=1))
    for p, c in zip(bp['boxes'], ['#ff6464','#808080']):
        p.set_facecolor(c)
    for pts in clouds:
        xy = np.array(pts)
        ax.scatter(xy[:,0], xy[:,1], s=7, color='black', linewidths=0, zorder=4)
    ax.set_xlim(*xlim); ax.set_ylim(*ylim)
    ax.set_yticks(yticks); ax.set_xticks([1.5]); ax.set_xticklabels([])
    ax.tick_params(axis='y', labelsize=20, length=8, width=.8, pad=3, color='#333333')
    ax.tick_params(axis='x', length=7, width=.8, color='#333333')
    for s in ax.spines.values():
        s.set_linewidth(.9); s.set_edgecolor('#333333')
    lt, top, rb, gl, gr = bracket
    ax.plot([1,1,gl], [lt,top,top], color='#555555', lw=.9, zorder=3)
    ax.plot([gr,2,2], [top,top,rb], color='#555555', lw=.9, zorder=3)
    ax.annotate('*', (1.49, top), xytext=(0, -3), textcoords='offset points', color='red', fontsize=21,
                ha='center', va='center_baseline', zorder=5)
    if extra_zero:
        ax.hlines([0,0], [.6,1.6], [1.4,2.4], color='black', lw=3, zorder=3)

ax = axpx(120.5, 683.3, 416, 1174.5)
box_panel(ax, [chol_tumor_box, chol_normal_box], (-.114,3.11), (.47,16), [2,4,6,8,10,12,14,16],
          [chol_tumor_pts, chol_normal_pts], (15.04,15.43,6.99,1.42,1.56))
ax = axpx(465.4, 681.2, 760.8, 1173.2)
lihc_t = np.array(lihc_tumor_pts)+[1,0]
lihc_n = np.array(lihc_normal_pts)+[2,0]
box_panel(ax, [lihc_tumor_box, lihc_normal_box], (-.126,3.12), (-.46,15.46), [0,5,10,15],
          [lihc_t, lihc_n], (14.5,14.86,10.7,1.39,1.59), True)
T(463, 652, 'SPP1 expression', fontsize=21, ha='center')
T(269, 1204, 'CHOL', fontsize=20, ha='center')
T(269, 1233.5, '(num(T)=36; num(N)=9)', fontsize=20, ha='center')
T(613, 1204, 'LIHC', fontsize=20, ha='center')
T(613, 1233.5, '(num(T)=369; num(N)=160)', fontsize=20, ha='center')

# E -------------------------------------------------
cmap_e = LinearSegmentedColormap.from_list('e', ['#000080','#ffffff','#ff0000'])
ax = axpx(894, 650, 1162.5, 1581)
ax.pcolormesh(np.array([e_c0,e_c1,e_c2]).T, cmap=cmap_e, vmin=-30, vmax=30, edgecolors='white', linewidth=1.1)
ax.set_ylim(50, 0)
ax.set_xticks([])
for s, x in zip(['C0','C1','C2'], [934,1023.7,1116]):
    T(x, 1603, s, fontsize=20, ha='center')
ax.yaxis.tick_right(); ax.set_yticks(np.arange(50)+.5)
ax.set_yticklabels(e_pathways, fontsize=13.5, family='Liberation Serif')
ax.tick_params(length=0); ax.tick_params(axis='y', pad=12)
for s in ax.spines.values(): s.set_visible(False)
cax = axpx(1542.5, 660.7, 1562, 929.7)
cb = fig.colorbar(ScalarMappable(Normalize(-30,30), cmap_e), cax=cax)
cb.set_ticks([30,0,-30]); cb.set_ticklabels(['30','0','−30'], fontsize=19)
cb.ax.tick_params(length=0, pad=3); cb.outline.set_visible(False)
T(1458, 792, 'Pathway activity', fontsize=21, rotation=90, ha='center')
T(1491.6, 792, r'($\mathit{t}$ value calculated', fontsize=21, rotation=90, ha='center')
T(1525, 792, 'by a linear model)', fontsize=21, rotation=90, ha='center')

# F -------------------------------------------------
cmap_f = LinearSegmentedColormap.from_list('f', ['#e31a1c','#ffffff','#000080'])
ax = axpx(119.6, 1425.7, 732, 1609.3)
ax.pcolormesh(np.array([f_c2,f_c0,f_c1]), cmap=cmap_f.reversed(), vmin=-2, vmax=2)
ax.set_ylim(3, 0)
ax.xaxis.tick_top(); ax.set_xticks(np.arange(37)+.5)
ax.set_xticklabels(f_tfs, rotation=90, fontsize=9.7, family='Liberation Serif', ha='center', va='bottom')
ax.yaxis.tick_right(); ax.set_yticks(np.arange(3)+.5); ax.set_yticklabels(f_rows, fontsize=20)
ax.tick_params(length=0); ax.tick_params(axis='x', pad=6); ax.tick_params(axis='y', pad=3)
for s in ax.spines.values(): s.set_visible(False)
cax = axpx(130, 1631.7, 403.6, 1650.7)
cb = fig.colorbar(ScalarMappable(Normalize(-2,2), cmap_f.reversed()), cax=cax, orientation='horizontal')
cax.invert_xaxis()
cb.set_ticks([1.97,.13,-1.8]); cb.set_ticklabels(['2','0','−2'], fontsize=14)
cb.ax.tick_params(length=0, pad=6); cb.outline.set_visible(False)
T(410, 1640, 'TF Activity', fontsize=18, ha='left')

# G -------------------------------------------------
cmap_g = LinearSegmentedColormap.from_list('g', ['#132B43','#56B1F7'])
norm_g = Normalize(0, 23.3)
branches = [branch_up, branch_right, branch_right_down, branch_mid, branch_left, branch_left_down]
def traj(ax, by_pseudotime):
    ax.axis('off')
    for br in branches:
        xy = np.array(br)
        ax.plot(xy[:,0], xy[:,1], color='black', lw=2, zorder=1)
    for pts, cl, pt in traj_groups:
        xy = np.array(pts)
        col = cmap_g(norm_g(pt)) if by_pseudotime else cluster_colors[cl]
        ax.scatter(xy[:,0], xy[:,1], s=88, color=col, linewidths=0, zorder=2)
    for s, x, y in traj_nodes:
        ax.scatter([x], [y], s=165, color='black', linewidths=0, zorder=3)
        ax.text(x, y, s, color='white', fontsize=8.5, ha='center', va='center', zorder=4)

ax = axpx(100, 1690, 780, 2258)
ax.set_xlim(0, 1568); ax.set_ylim(1568, 0); traj(ax, False)
ax = axpx(820, 1724, 1541, 2258)
ax.set_xlim(0, 1568); ax.set_ylim(1500, 0); traj(ax, True)
T(254, 2227, 'Component 1', fontsize=20.7, ha='center')
T(146.4, 2117.5, 'Component 2', fontsize=20.7, ha='center', rotation=90)
T(978, 2235, 'Component 1', fontsize=20.7, ha='center')
T(872.4, 2130, 'Component 2', fontsize=20.7, ha='center', rotation=90)
cax = axpx(1171, 1690.6, 1285.8, 1721.4)
cb = fig.colorbar(ScalarMappable(norm_g, cmap_g), cax=cax, orientation='horizontal')
cb.set_ticks([0,5,10,15,20]); cb.set_ticklabels(['0','5','10','15','20'], fontsize=13)
cb.ax.tick_params(length=0, pad=4); cb.outline.set_visible(False)
for v in [5,10,15,20]:
    cb.ax.vlines(v, 0, .2, color='white', lw=.8); cb.ax.vlines(v, .8, 1, color='white', lw=.8)
T(1162.6, 1707.5, 'Pseudotime', fontsize=18.2, ha='right')

# decorations: axis arrows and tSNE text
ov = fig.add_axes([0,0,1,1]); ov.set_xlim(0,W); ov.set_ylim(H,0); ov.axis('off'); ov.patch.set_alpha(0)
for (ox, oy, tx, ry) in [(695,525,444,777.6),(172,2203,2096,295),(895,2213,2103,1026.4)]:
    ap = dict(arrowstyle='-|>,head_length=.45,head_width=.18', color='#333333', lw=1, shrinkA=0, shrinkB=0)
    ov.annotate('', xy=(ox,tx), xytext=(ox,oy), arrowprops=ap)
    ov.annotate('', xy=(ry,oy), xytext=(ox,oy), arrowprops=ap)
T(674, 478, 'tSNE_2', fontsize=19.7, rotation=90, ha='center')
T(737, 547, 'tSNE_1', fontsize=19.7, ha='center')

fig.savefig('out.png', dpi=100, facecolor='white')
